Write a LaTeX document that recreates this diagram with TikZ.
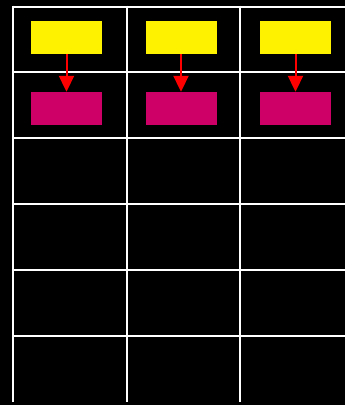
\documentclass[tikz,border=0pt]{standalone}
\usetikzlibrary{arrows.meta}
\definecolor{magbox}{RGB}{206,0,104}
\tikzset{
  gridline/.style={draw=white, line width=2pt},
  ybox/.style={fill=yellow, draw=none, minimum width=71pt, minimum height=33pt, inner sep=0pt},
  mbox/.style={fill=magbox, draw=none, minimum width=71pt, minimum height=33pt, inner sep=0pt},
  flow/.style={draw=red, line width=2pt, -{Triangle[width=15pt,length=16pt]}, shorten >=0pt}
}
\begin{document}
\begin{tikzpicture}[x=1pt,y=-1pt]
\fill[black] (0,0) rectangle (345,405);
\useasboundingbox (0,0) rectangle (345,405);
% horizontal grid lines
\foreach \yy in {6.5,72,138,204,270,336}
  \draw[gridline] (13,\yy) -- (350,\yy);
% vertical grid lines
\foreach \xx in {13,126.5,240}
  \draw[gridline] (\xx,5.5) -- (\xx,402);
% boxes
\node[ybox] (y1) at (66.5,37.5) {};
\node[ybox] (y2) at (181,37.5) {};
\node[ybox] (y3) at (295.5,37.5) {};
\node[mbox] (m1) at (66.5,108.5) {};
\node[mbox] (m2) at (181,108.5) {};
\node[mbox] (m3) at (295.5,108.5) {};
% arrows
\draw[flow] (y1) -- (m1);
\draw[flow] (y2) -- (m2);
\draw[flow] (y3) -- (m3);
\end{tikzpicture}
\end{document}
